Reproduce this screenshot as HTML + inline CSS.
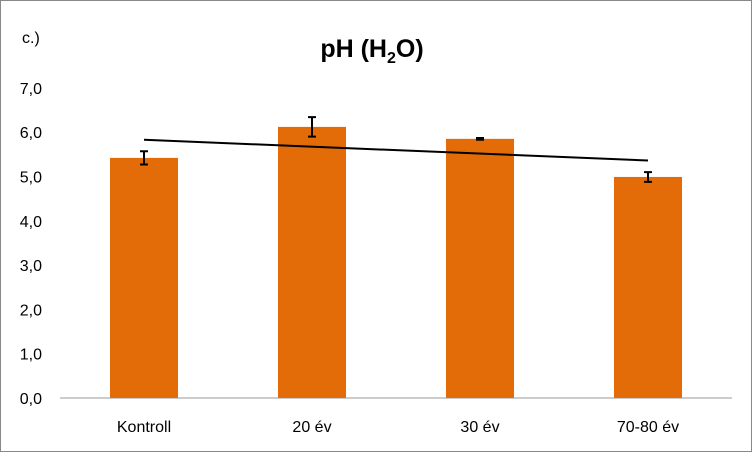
<!DOCTYPE html>
<html><head><meta charset="utf-8"><style>
html,body{margin:0;padding:0;background:#fff}
svg{display:block;font-family:"Liberation Sans",Arial,sans-serif}
</style></head><body>
<svg id="chart" width="752" height="452" viewBox="0 0 752 452">
<rect x="0.5" y="0.5" width="751" height="451" fill="#fff" stroke="#888"/>
<text x="22" y="43" font-size="16" fill="#000">c.)</text>
<text x="372" y="57" font-size="25" font-weight="bold" text-anchor="middle" fill="#000">pH (H<tspan font-size="16" dy="6">2</tspan><tspan dy="-6">O)</tspan></text>
<g id="plot"></g>
</svg>
<script>
const categories=["Kontroll","20 év","30 év","70-80 év"];
const values=[5.42,6.12,5.85,4.99];
const errors=[0.15,0.22,0.02,0.11];
const yTicks=[0,1,2,3,4,5,6,7];
const NS="http://www.w3.org/2000/svg";
const g=document.getElementById("plot");
const left=60,right=732,y0=398,yMax=7,ppu=44.3;
const bandW=(right-left)/categories.length;
const xC=i=>left+bandW*(i+0.5);
const yS=v=>y0-v*ppu;
function mk(t,a){const e=document.createElementNS(NS,t);for(const k in a)e.setAttribute(k,a[k]);g.appendChild(e);return e;}
yTicks.forEach(v=>{
 const t=mk("text",{x:42,y:yS(v)+6,"font-size":16,"text-anchor":"end",fill:"#000"});
 
 
 t.textContent=v.toFixed(1).replace(".",",");
});
const ax=mk("line",{x1:left,x2:right,y1:y0,y2:y0,stroke:"#999","stroke-width":1});


const bw=68;
categories.forEach((c,i)=>{
 const r=mk("rect",{x:xC(i)-bw/2,y:yS(values[i]),width:bw,height:y0-yS(values[i]),fill:"#E36C09"});
 
 
 const lo=yS(values[i]-errors[i]),hi=yS(values[i]+errors[i]),x=xC(i);
 const eb=mk("path",{d:`M${x},${hi}V${lo}M${x-4},${hi}H${x+4}M${x-4},${lo}H${x+4}`,stroke:"#000","stroke-width":2,fill:"none"});
 
 
 const t=mk("text",{x:x,y:432,"font-size":16,"text-anchor":"middle",fill:"#000"});
 
 
 t.textContent=c;
});
// linear trendline
const n=values.length,mx=(n-1)/2,my=values.reduce((a,b)=>a+b,0)/n;
let sxy=0,sxx=0;values.forEach((v,i)=>{sxy+=(i-mx)*(v-my);sxx+=(i-mx)*(i-mx);});
const sl=sxy/sxx;
const tl=mk("line",{x1:xC(0),y1:yS(my+sl*(0-mx)),x2:xC(n-1),y2:yS(my+sl*(n-1-mx)),stroke:"#000","stroke-width":2});


</script>
</body></html>
